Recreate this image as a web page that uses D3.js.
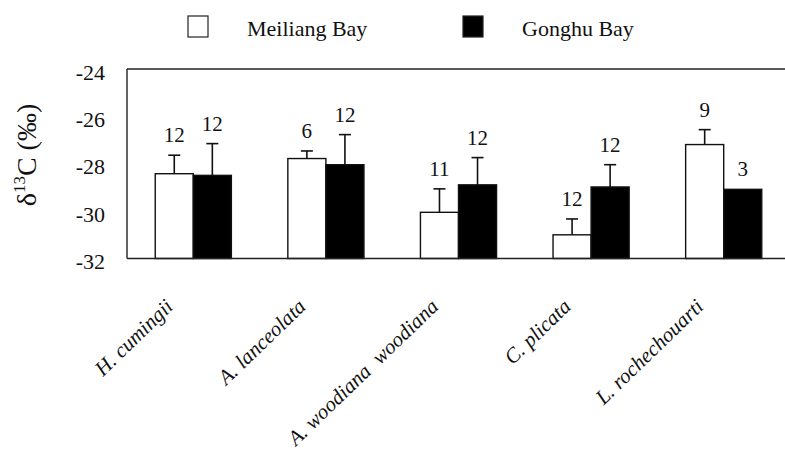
<!DOCTYPE html>
<html>
<head>
<meta charset="utf-8">
<script src="https://cdn.jsdelivr.net/npm/d3@7"></script>
<style>
  html, body { margin: 0; padding: 0; background: #fff; }
  svg { display: block; }
</style>
</head>
<body>
<div id="app"></div>
<script>
// Species along the x axis
const categories = ["H. cumingii", "A. lanceolata", "A. woodiana  woodiana", "C. plicata", "L. rochechouarti"];
const seriesNames = ["Meiliang Bay", "Gonghu Bay"];

// delta 13C means (per mil) and error bars
const meiliang = [-28.42, -27.78, -30.05, -31.0, -27.19];
const meiliangErr = [0.78, 0.32, 0.99, 0.67, 0.63];
const gonghu = [-28.49, -28.04, -28.89, -28.98, -29.08];
const gonghuErr = [1.34, 1.27, 1.15, 0.94, 0.0];

// sample sizes written above the bars
const meiliangN = [12, 6, 11, 12, 9];
const gonghuN = [12, 12, 12, 12, 3];

const yTicks = [-32, -30, -28, -26, -24];

const FONT = "Liberation Serif";

function draw(el) {
  const width = 785, height = 455;
  const plot = { left: 127, right: 790, top: 69, bottom: 258.5 };

  const svg = d3.select(el).append("svg")
    .attr("width", width)
    .attr("height", height);

  const x0 = d3.scaleBand()
    .domain(categories)
    .range([plot.left, plot.right])
    .paddingInner(0.426)
    .paddingOuter(0.213);

  const x1 = d3.scaleBand()
    .domain(seriesNames)
    .range([0, x0.bandwidth()]);

  const y = d3.scaleLinear().domain([-32, -24]).range([plot.bottom, plot.top]);

  const rows = categories.map((c, i) => ({
    cat: c,
    bars: [
      { s: seriesNames[0], v: meiliang[i], e: meiliangErr[i], n: meiliangN[i], fill: "#fff" },
      { s: seriesNames[1], v: gonghu[i], e: gonghuErr[i], n: gonghuN[i], fill: "#000" }
    ]
  }));

  // frame (no visible right border in the original)
  const frame = svg.append("g").attr("stroke", "#222").attr("stroke-width", 1.4).attr("fill", "none");
  frame.append("line").attr("x1", plot.left).attr("x2", width).attr("y1", plot.top).attr("y2", plot.top);
  frame.append("line").attr("x1", plot.left).attr("x2", plot.left).attr("y1", plot.top).attr("y2", plot.bottom);

  // y axis labels
  const yAxis = svg.append("g")
    .attr("transform", `translate(${plot.left},3)`)
    .call(d3.axisLeft(y).tickValues(yTicks).tickSize(0).tickPadding(22).tickFormat(d => String(d)));
  yAxis.select(".domain").remove();
  yAxis.selectAll("text")
    .attr("font-family", FONT)
    .attr("font-size", 22)
    .attr("fill", "#111");

  // bars
  const groups = svg.append("g").selectAll("g")
    .data(rows)
    .join("g")
      .attr("transform", d => `translate(${x0(d.cat)},0)`);

  groups.selectAll("rect")
    .data(d => d.bars)
    .join("rect")
      .attr("x", d => x1(d.s))
      .attr("y", d => y(d.v))
      .attr("width", x1.bandwidth())
      .attr("height", d => y(-32) - y(d.v))
      .attr("fill", d => d.fill)
      .attr("stroke", "#111")
      .attr("stroke-width", 1.4);

  // error bars (upper half only)
  const eb = groups.selectAll("g.err")
    .data(d => d.bars.filter(b => b.e > 0))
    .join("g")
      .attr("class", "err")
      .attr("stroke", "#111")
      .attr("stroke-width", 1.6);
  eb.append("line")
    .attr("x1", d => x1(d.s) + x1.bandwidth() / 2)
    .attr("x2", d => x1(d.s) + x1.bandwidth() / 2)
    .attr("y1", d => y(d.v))
    .attr("y2", d => y(d.v + d.e));
  eb.append("line")
    .attr("x1", d => x1(d.s) + x1.bandwidth() / 2 - 6)
    .attr("x2", d => x1(d.s) + x1.bandwidth() / 2 + 6)
    .attr("y1", d => y(d.v + d.e))
    .attr("y2", d => y(d.v + d.e));

  // sample sizes
  groups.selectAll("text.n")
    .data(d => d.bars)
    .join("text")
      .attr("class", "n")
      .attr("x", d => x1(d.s) + x1.bandwidth() / 2)
      .attr("y", d => y(d.v + d.e) - 13)
      .attr("text-anchor", "middle")
      .attr("font-family", FONT)
      .attr("font-size", 21)
      .attr("fill", "#111")
      .text(d => d.n);

  // bottom line on top of bars
  svg.append("line")
    .attr("x1", plot.left).attr("x2", width)
    .attr("y1", plot.bottom).attr("y2", plot.bottom)
    .attr("stroke", "#222").attr("stroke-width", 1.4);

  // rotated species names
  svg.append("g").selectAll("text")
    .data(categories)
    .join("text")
      .attr("transform", d => `translate(${x0(d) + x0.bandwidth() / 2 - 19},308) rotate(-44)`)
      .attr("text-anchor", "end")
      .attr("font-family", FONT)
      .attr("font-style", "italic")
      .attr("font-size", 21)
      .attr("fill", "#111")
      .style("white-space", "pre")
      .text(d => d);

  // y axis title
  const title = svg.append("text")
    .attr("transform", "translate(36,155) rotate(-90)")
    .attr("text-anchor", "middle")
    .attr("font-family", FONT)
    .attr("font-size", 28)
    .attr("fill", "#111");
  title.append("tspan").text("\u03b4");
  title.append("tspan").attr("font-size", 17).attr("dy", -11).text("13");
  title.append("tspan").attr("dy", 11).text("C (\u2030)");

  // legend
  const legendX = [188, 463];
  const legend = svg.append("g").selectAll("g")
    .data(seriesNames)
    .join("g")
      .attr("transform", (d, i) => `translate(${legendX[i]},16)`);
  legend.append("rect")
    .attr("width", 20).attr("height", 21)
    .attr("fill", (d, i) => i === 0 ? "#fff" : "#000")
    .attr("stroke", "#222").attr("stroke-width", 1.2);
  legend.append("text")
    .attr("x", 59).attr("y", 20)
    .attr("font-family", FONT)
    .attr("font-size", 22)
    .attr("fill", "#111")
    .text(d => d);
}

draw(document.getElementById("app"));
</script>
</body>
</html>
